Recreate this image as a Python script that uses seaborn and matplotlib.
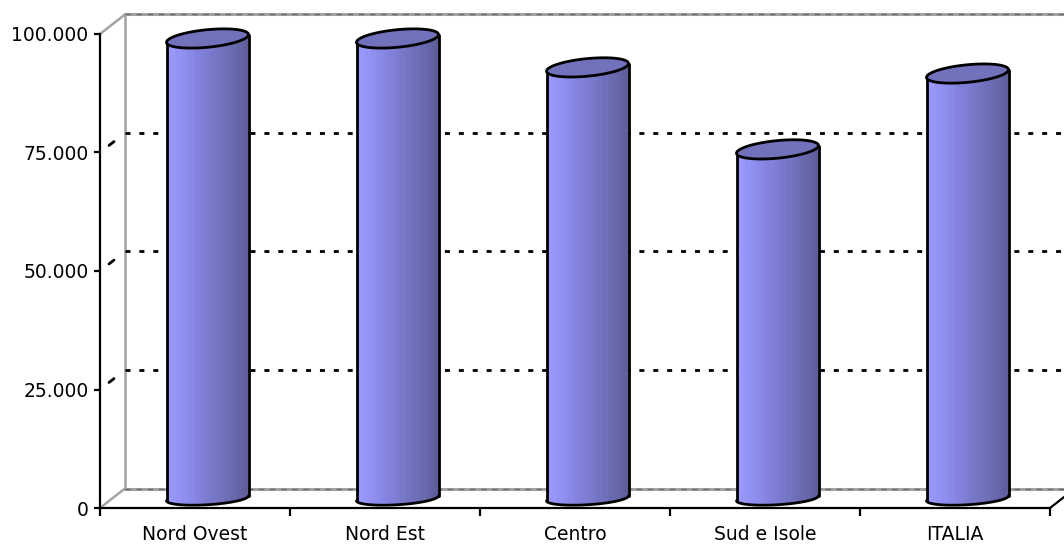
import matplotlib
matplotlib.use("Agg")
import matplotlib.pyplot as plt
import numpy as np
import pandas as pd
import seaborn as sns
from matplotlib.colors import LinearSegmentedColormap
from matplotlib.patches import Polygon

# dati
categorie = ["Nord Ovest", "Nord Est", "Centro", "Sud e Isole", "ITALIA"]
valori = [97000, 97000, 90900, 73600, 89600]
tick_y = [0, 25000, 50000, 75000, 100000]
etichette_y = ["0", "25.000", "50.000", "75.000", "100.000"]
griglia_y = [25000, 50000, 75000]

W, H = 1064, 545
PX_X = 1 / 190          # unita categoria per pixel
PX_Y = 100000 / 474     # unita valore per pixel
DX = 25 * PX_X          # profondita 3D
DY = 19.5 * PX_Y

sns.set_style("white")
plt.rcParams["font.family"] = ["DejaVu Sans"]
plt.rcParams["text.color"] = "black"
plt.rcParams["xtick.color"] = "black"
plt.rcParams["ytick.color"] = "black"

fig = plt.figure(figsize=(W / 100, H / 100), dpi=100)
ax = fig.add_axes([100 / W, 37 / H, 950 / W, 474 / H])

df = pd.DataFrame({"area": categorie, "valore": valori})
sns.barplot(data=df, x="area", y="valore", width=0.43, color="#8080e0", ax=ax)

ax.set_xlim(-0.5, 4.5)
ax.set_ylim(0, 100000)

# pareti 3D
grigio = "#a3a3a3"
x_sx, x_dx = -0.5, 4.5
ax.plot([x_sx + DX, x_sx + DX], [DY, 100000 + DY], color=grigio, lw=1.8, clip_on=False, zorder=1)
ax.plot([x_sx, x_sx + DX], [100000, 100000 + DY], color=grigio, lw=1.8, clip_on=False, zorder=1)
ax.plot([x_sx, x_sx + DX], [0, DY], color=grigio, lw=1.8, clip_on=False, zorder=1)
for yy in [DY, 100000 + DY]:
    ax.plot([x_sx + DX, x_dx + DX], [yy, yy], color=grigio, lw=2.2, clip_on=False, zorder=1)
    ax.plot([x_sx + DX, x_dx + DX], [yy, yy], color="#666666", lw=1.0, clip_on=False,
            zorder=1, dashes=(4, 4))
ax.plot([x_dx, x_dx + DX], [0, DY], color="black", lw=1.6, clip_on=False, zorder=4)

# griglia sulla parete di fondo
for v in griglia_y:
    ax.plot([x_sx + DX, x_dx + DX], [v + DY, v + DY], color="black", lw=2.0,
            dashes=(1.8, 3.2), clip_on=False, zorder=1)
    ax.plot([x_sx + 0.36 * DX, x_sx + 0.56 * DX], [v + 0.36 * DY, v + 0.56 * DY],
            color="black", lw=2.0, clip_on=False, zorder=1)


def ellisse(xc, yc, a, b, s, t0=0, t1=2 * np.pi, n=120):
    t = np.linspace(t0, t1, n)
    xs = a * np.cos(t)
    ys = b * np.sin(t) + s * xs
    return np.column_stack([xc + xs * PX_X, yc + ys * PX_Y])


# sfumatura dei cilindri
cmap = LinearSegmentedColormap.from_list(
    "cil", ["#9c9cff", "#8f8ff0", "#8282dc", "#7676c6", "#6a6ab0", "#5d5d98"])
grad = np.linspace(0, 1, 240)
for f in [0.04, 0.09, 0.16, 0.22, 0.31, 0.44, 0.58, 0.66, 0.74, 0.83, 0.9]:
    i = int(f * 239)
    grad[i] = max(grad[i] - 0.14, 0)
grad = grad[np.newaxis, :]

A = 41           # semiasse orizzontale in pixel
B_CIMA, S_CIMA = 8.8, 0.094
B_FONDO, S_FONDO = 6.5, 0.06
for p in ax.patches:
    p.set_visible(False)
    xc = p.get_x() + p.get_width() / 2 + DX / 2
    y0 = DY / 2
    y1 = p.get_height() + DY / 2

    fondo = ellisse(xc, y0, A, B_FONDO, S_FONDO, np.pi, 2 * np.pi)
    cima = ellisse(xc, y1, A, B_CIMA, S_CIMA, 0, np.pi)
    corpo = np.vstack([fondo, cima])
    clip = Polygon(corpo, closed=True, transform=ax.transData, facecolor="none", edgecolor="none")
    ax.add_patch(clip)
    img = ax.imshow(grad, cmap=cmap, aspect="auto", vmin=0, vmax=1,
                    extent=[xc - A * PX_X, xc + A * PX_X, 0, y1 + 14 * PX_Y], zorder=3)
    img.set_clip_path(clip)
    img.set_clip_box(fig.bbox)

    ax.plot(fondo[:, 0], fondo[:, 1], color="black", lw=2.0, zorder=4, clip_on=False)
    ax.plot([xc - A * PX_X] * 2, [y0 - S_FONDO * A * PX_Y, y1 - S_CIMA * A * PX_Y],
            color="black", lw=2.0, zorder=4, clip_on=False)
    ax.plot([xc + A * PX_X] * 2, [y0 + S_FONDO * A * PX_Y, y1 + S_CIMA * A * PX_Y],
            color="black", lw=2.0, zorder=4, clip_on=False)
    ax.add_patch(Polygon(ellisse(xc, y1, A, B_CIMA, S_CIMA), closed=True,
                         facecolor="#7272bc", edgecolor="black", lw=2.0, zorder=5,
                         clip_on=False))

ax.set_xlim(-0.5, 4.5)
ax.set_ylim(0, 100000)

# assi
for lato in ["top", "right"]:
    ax.spines[lato].set_visible(False)
for lato in ["left", "bottom"]:
    ax.spines[lato].set_color("black")
    ax.spines[lato].set_linewidth(1.6)
    ax.spines[lato].set_zorder(6)

ax.set_yticks(tick_y)
ax.set_yticklabels(etichette_y)
ax.set_xticks(range(len(categorie)))
ax.set_xticklabels(categorie)
ax.set_xticks(np.arange(-0.5, 5, 1), minor=True)
ax.tick_params(axis="y", direction="out", length=4.3, width=1.6, color="black",
               labelsize=13.5, pad=4, left=True, labelcolor="black")
ax.tick_params(axis="x", which="major", length=0, labelsize=13.5, pad=12,
               labelcolor="black")
ax.tick_params(axis="x", which="minor", direction="out", length=5.8, width=1.6,
               color="black", bottom=True)
ax.set_xlabel("")
ax.set_ylabel("")
ax.grid(False)

fig.savefig("out.png", dpi=100, facecolor="white")
